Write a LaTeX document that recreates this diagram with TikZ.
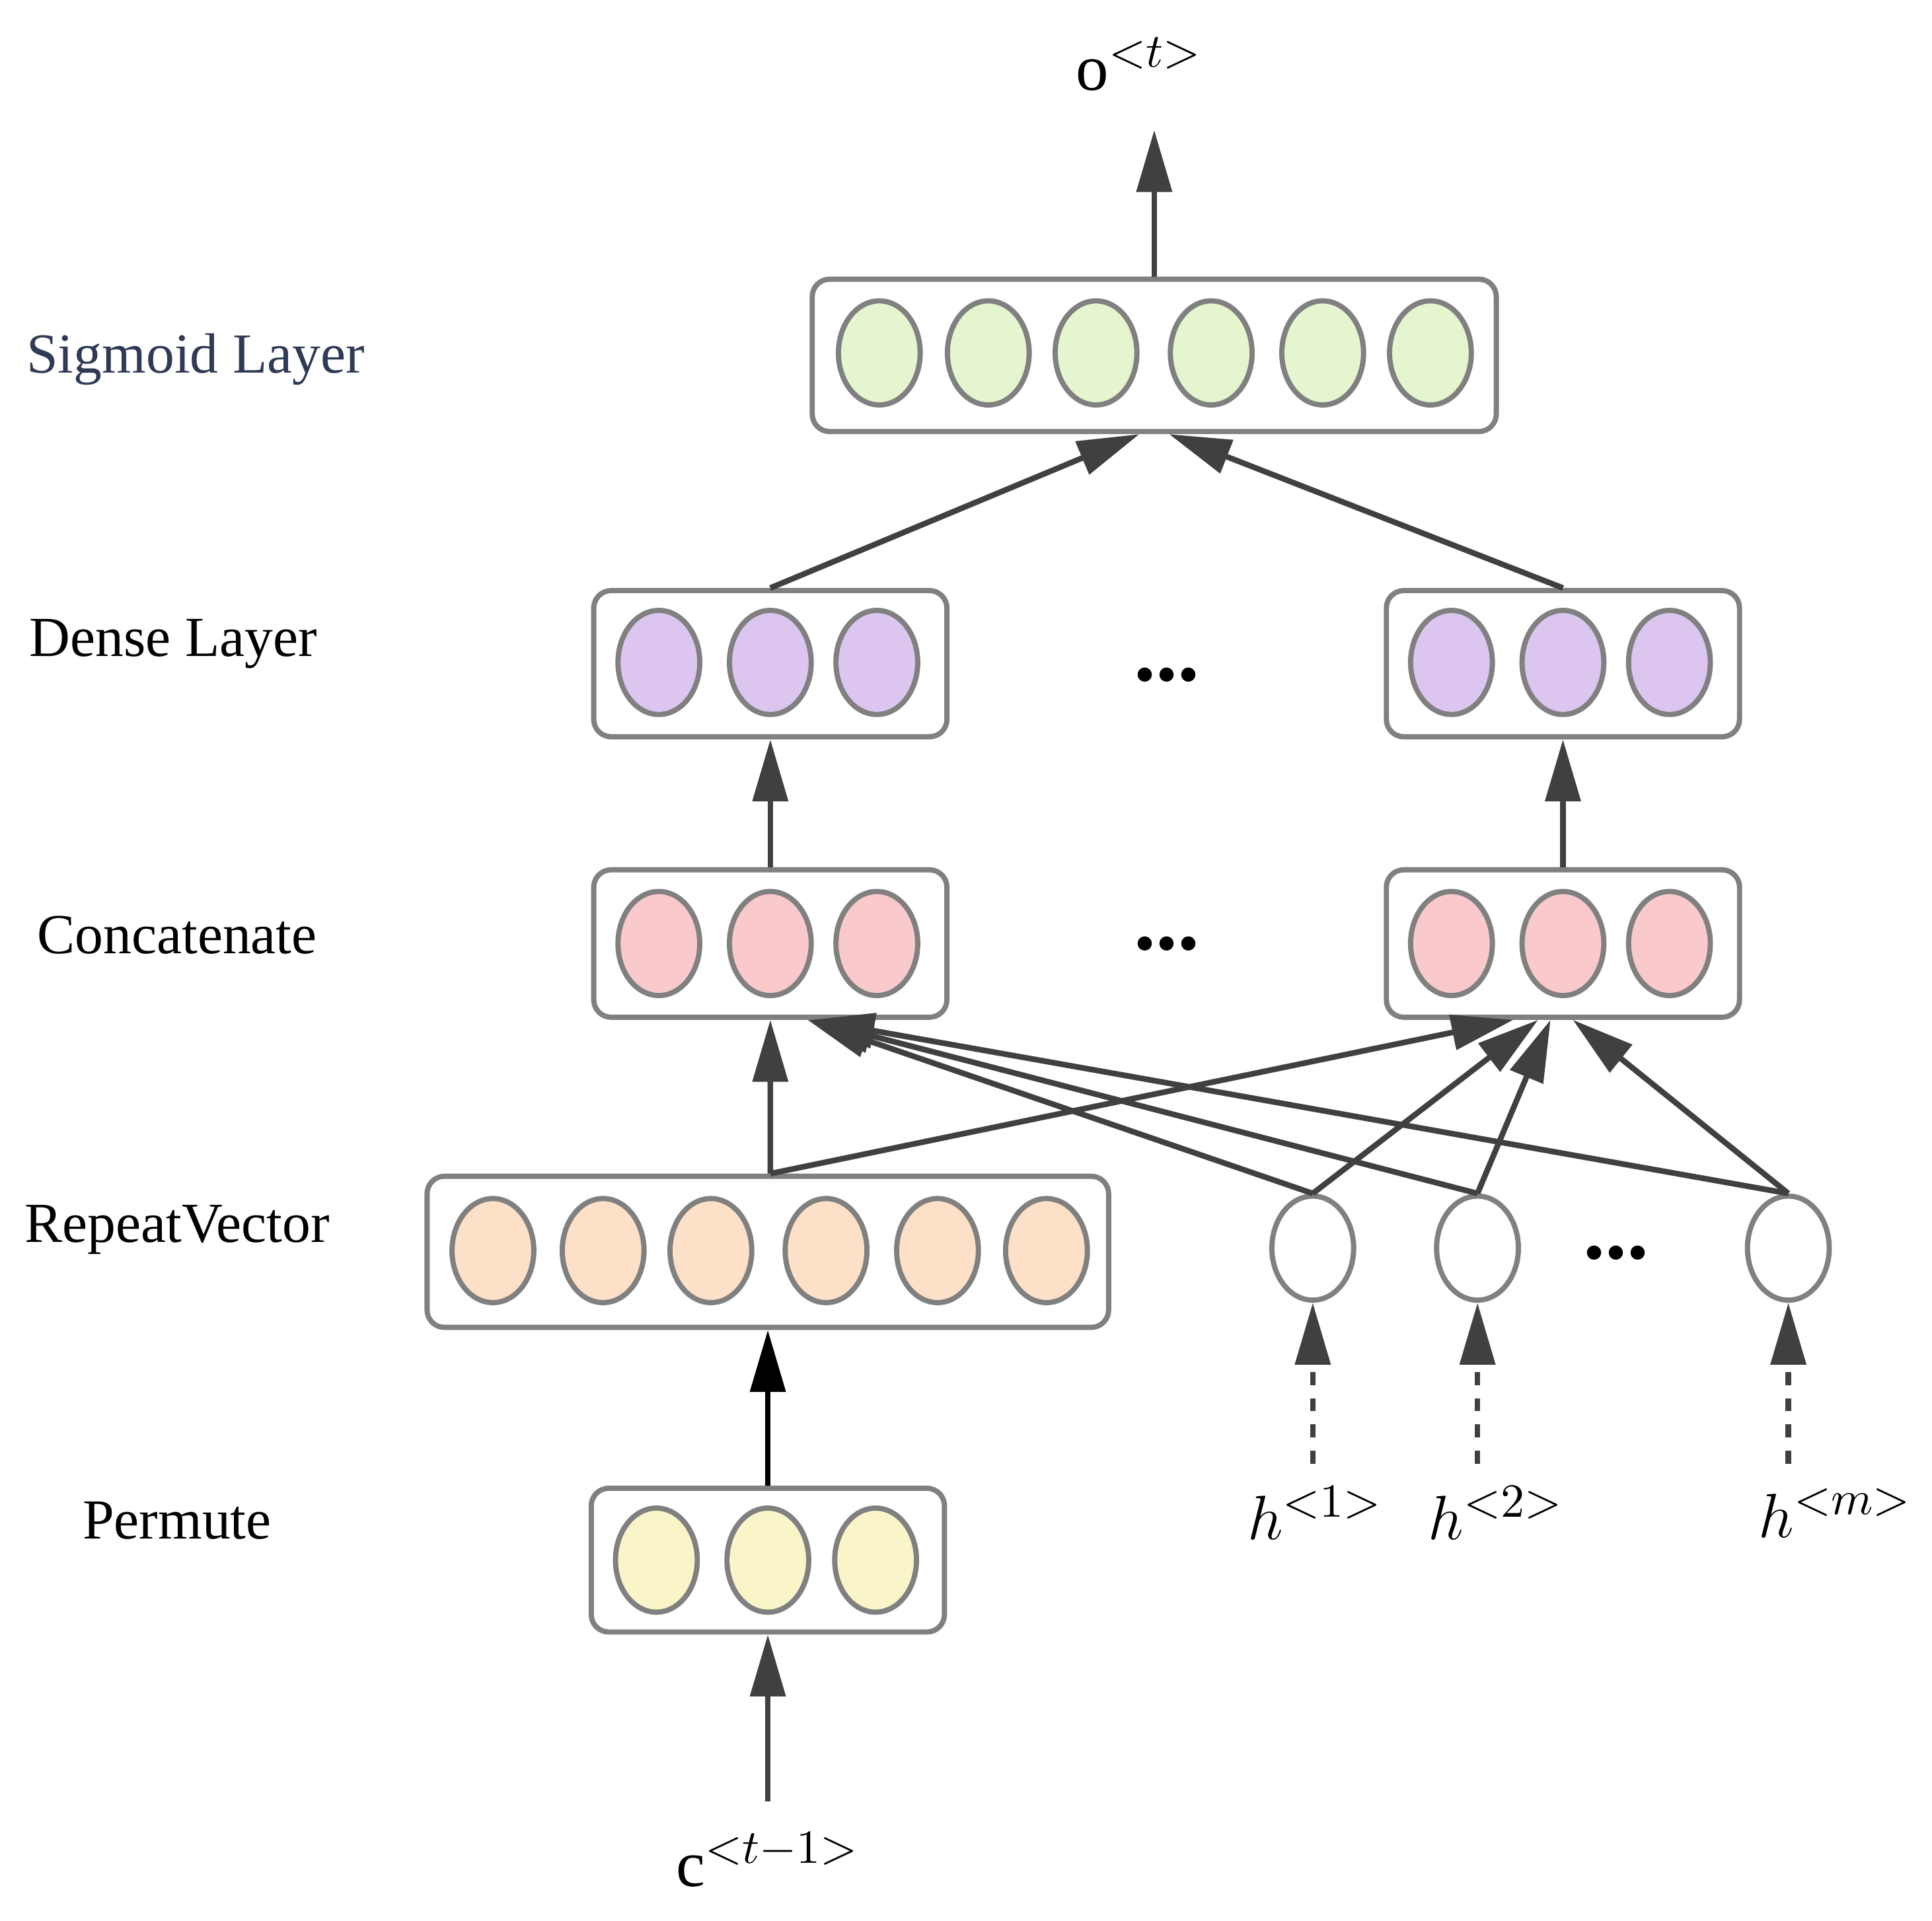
\documentclass[tikz,border=0pt]{standalone}
\usepackage{fontspec}
\setmainfont{Liberation Serif}
\usetikzlibrary{arrows.meta,shapes.geometric}
\definecolor{grn}{HTML}{E4F5CF}
\definecolor{prp}{HTML}{DCC6F0}
\definecolor{pnk}{HTML}{F9C9CC}
\definecolor{pch}{HTML}{FDE0C8}
\definecolor{ylw}{HTML}{FAF5C8}
\definecolor{edge}{HTML}{808080}
\definecolor{arr}{HTML}{404040}
\definecolor{slate}{HTML}{2F3A55}
\tikzset{
  box/.style={rectangle, rounded corners=4pt, draw=edge, line width=1.2pt, fill=white},
  unit/.style={ellipse, draw=edge, line width=1.2pt, minimum width=0.66cm, minimum height=0.84cm, inner sep=0pt},
  lbl/.style={font=\fontsize{13}{15}\selectfont},
  var/.style={font=\fontsize{15}{17}\selectfont},
  link/.style={draw=arr, line width=1.3pt, -{Triangle[length=0.5cm,width=0.28cm]}},
  dots/.style={font=\fontsize{20}{20}\selectfont\bfseries}
}
\begin{document}
\begin{tikzpicture}[x=0.01cm, y=-0.01cm]
\useasboundingbox (0,0) rectangle (1560,1551);

% Boxes
\node (sig) [box, minimum width=5.52cm, minimum height=1.23cm] at (932,287) {};
\node (denL) [box, minimum width=2.85cm, minimum height=1.18cm] at (622,536) {};
\node (denR) [box, minimum width=2.85cm, minimum height=1.18cm] at (1262,536) {};
\node (catL) [box, minimum width=2.85cm, minimum height=1.19cm] at (622,762) {};
\node (catR) [box, minimum width=2.85cm, minimum height=1.19cm] at (1262,762) {};
\node (rep) [box, minimum width=5.50cm, minimum height=1.22cm] at (620,1011) {};
\node (perm) [box, minimum width=2.85cm, minimum height=1.16cm] at (620,1260) {};

% Units
\foreach \x in {710,798,885,978,1068,1155}
  \node [unit, fill=grn] at (\x,285) {};
\foreach \x in {532,622,708,1172,1262,1348}
  \node [unit, fill=prp] at (\x,535) {};
\foreach \x in {532,622,708,1172,1262,1348}
  \node [unit, fill=pnk] at (\x,762) {};
\foreach \x in {398,487,574,667,757,845}
  \node [unit, fill=pch] at (\x,1010) {};
\foreach \x in {530,620,707}
  \node [unit, fill=ylw] at (\x,1260) {};
\node (hone) [unit, fill=white] at (1060,1008) {};
\node (htwo) [unit, fill=white] at (1193,1008) {};
\node (hm) [unit, fill=white] at (1444,1008) {};

% Layer names
\node [lbl, text=slate] at (158,290) {Sigmoid Layer};
\node [lbl] at (140,520) {Dense Layer};
\node [lbl] at (143,755) {Concatenate};
\node [lbl] at (143,993) {RepeatVector};
\node [lbl] at (143,1228) {Permute};

% Dots
\node [dots] at (942,545) {...};
\node [dots] at (942,762) {...};
\node [dots] at (1305,1012) {...};

% Inputs and output
\node (out) [var] at (920,52) {o$^{<t>}$};
\coordinate (outtip) at (932,105);
\node (cin) [var] at (620,1502) {c$^{<t-1>}$};
\coordinate (cfoot) at (620,1455);
\node (hlone) [var] at (1062,1222) {$h^{<1>}$};
\node (hltwo) [var] at (1208,1222) {$h^{<2>}$};
\node (hlm) [var] at (1482,1222) {$h^{<m>}$};
\coordinate (fone) at (1060,1182);
\coordinate (ftwo) at (1193,1182);
\coordinate (fm) at (1444,1182);

% Connections
\draw [link] (sig.north) -- (outtip);
\draw [link] (denL.north) -- ([xshift=-0.12cm]sig.south);
\draw [link] (denR.north) -- ([xshift=0.12cm]sig.south);
\draw [link] (catL.north) -- (denL.south);
\draw [link] (catR.north) -- (denR.south);
\draw [link] ([xshift=0.02cm]rep.north) -- (catL.south);
\draw [link] ([xshift=0.02cm]rep.north) -- ([xshift=-0.4cm]catR.south);
\draw [link] (hone.north) -- ([xshift=0.3cm]catL.south);
\draw [link] (htwo.north) -- ([xshift=0.32cm]catL.south);
\draw [link] (hm.north) -- ([xshift=0.34cm]catL.south);
\draw [link] (hone.north) -- ([xshift=-0.2cm]catR.south);
\draw [link] (htwo.north) -- ([xshift=-0.1cm]catR.south);
\draw [link] (hm.north) -- ([xshift=0.08cm]catR.south);
\draw [link, draw=black] (perm.north) -- (rep.south);
\draw [link] (cfoot) -- (perm.south);
\draw [link, dashed] (fone) -- (hone.south);
\draw [link, dashed] (ftwo) -- (htwo.south);
\draw [link, dashed] (fm) -- (hm.south);
\end{tikzpicture}
\end{document}
